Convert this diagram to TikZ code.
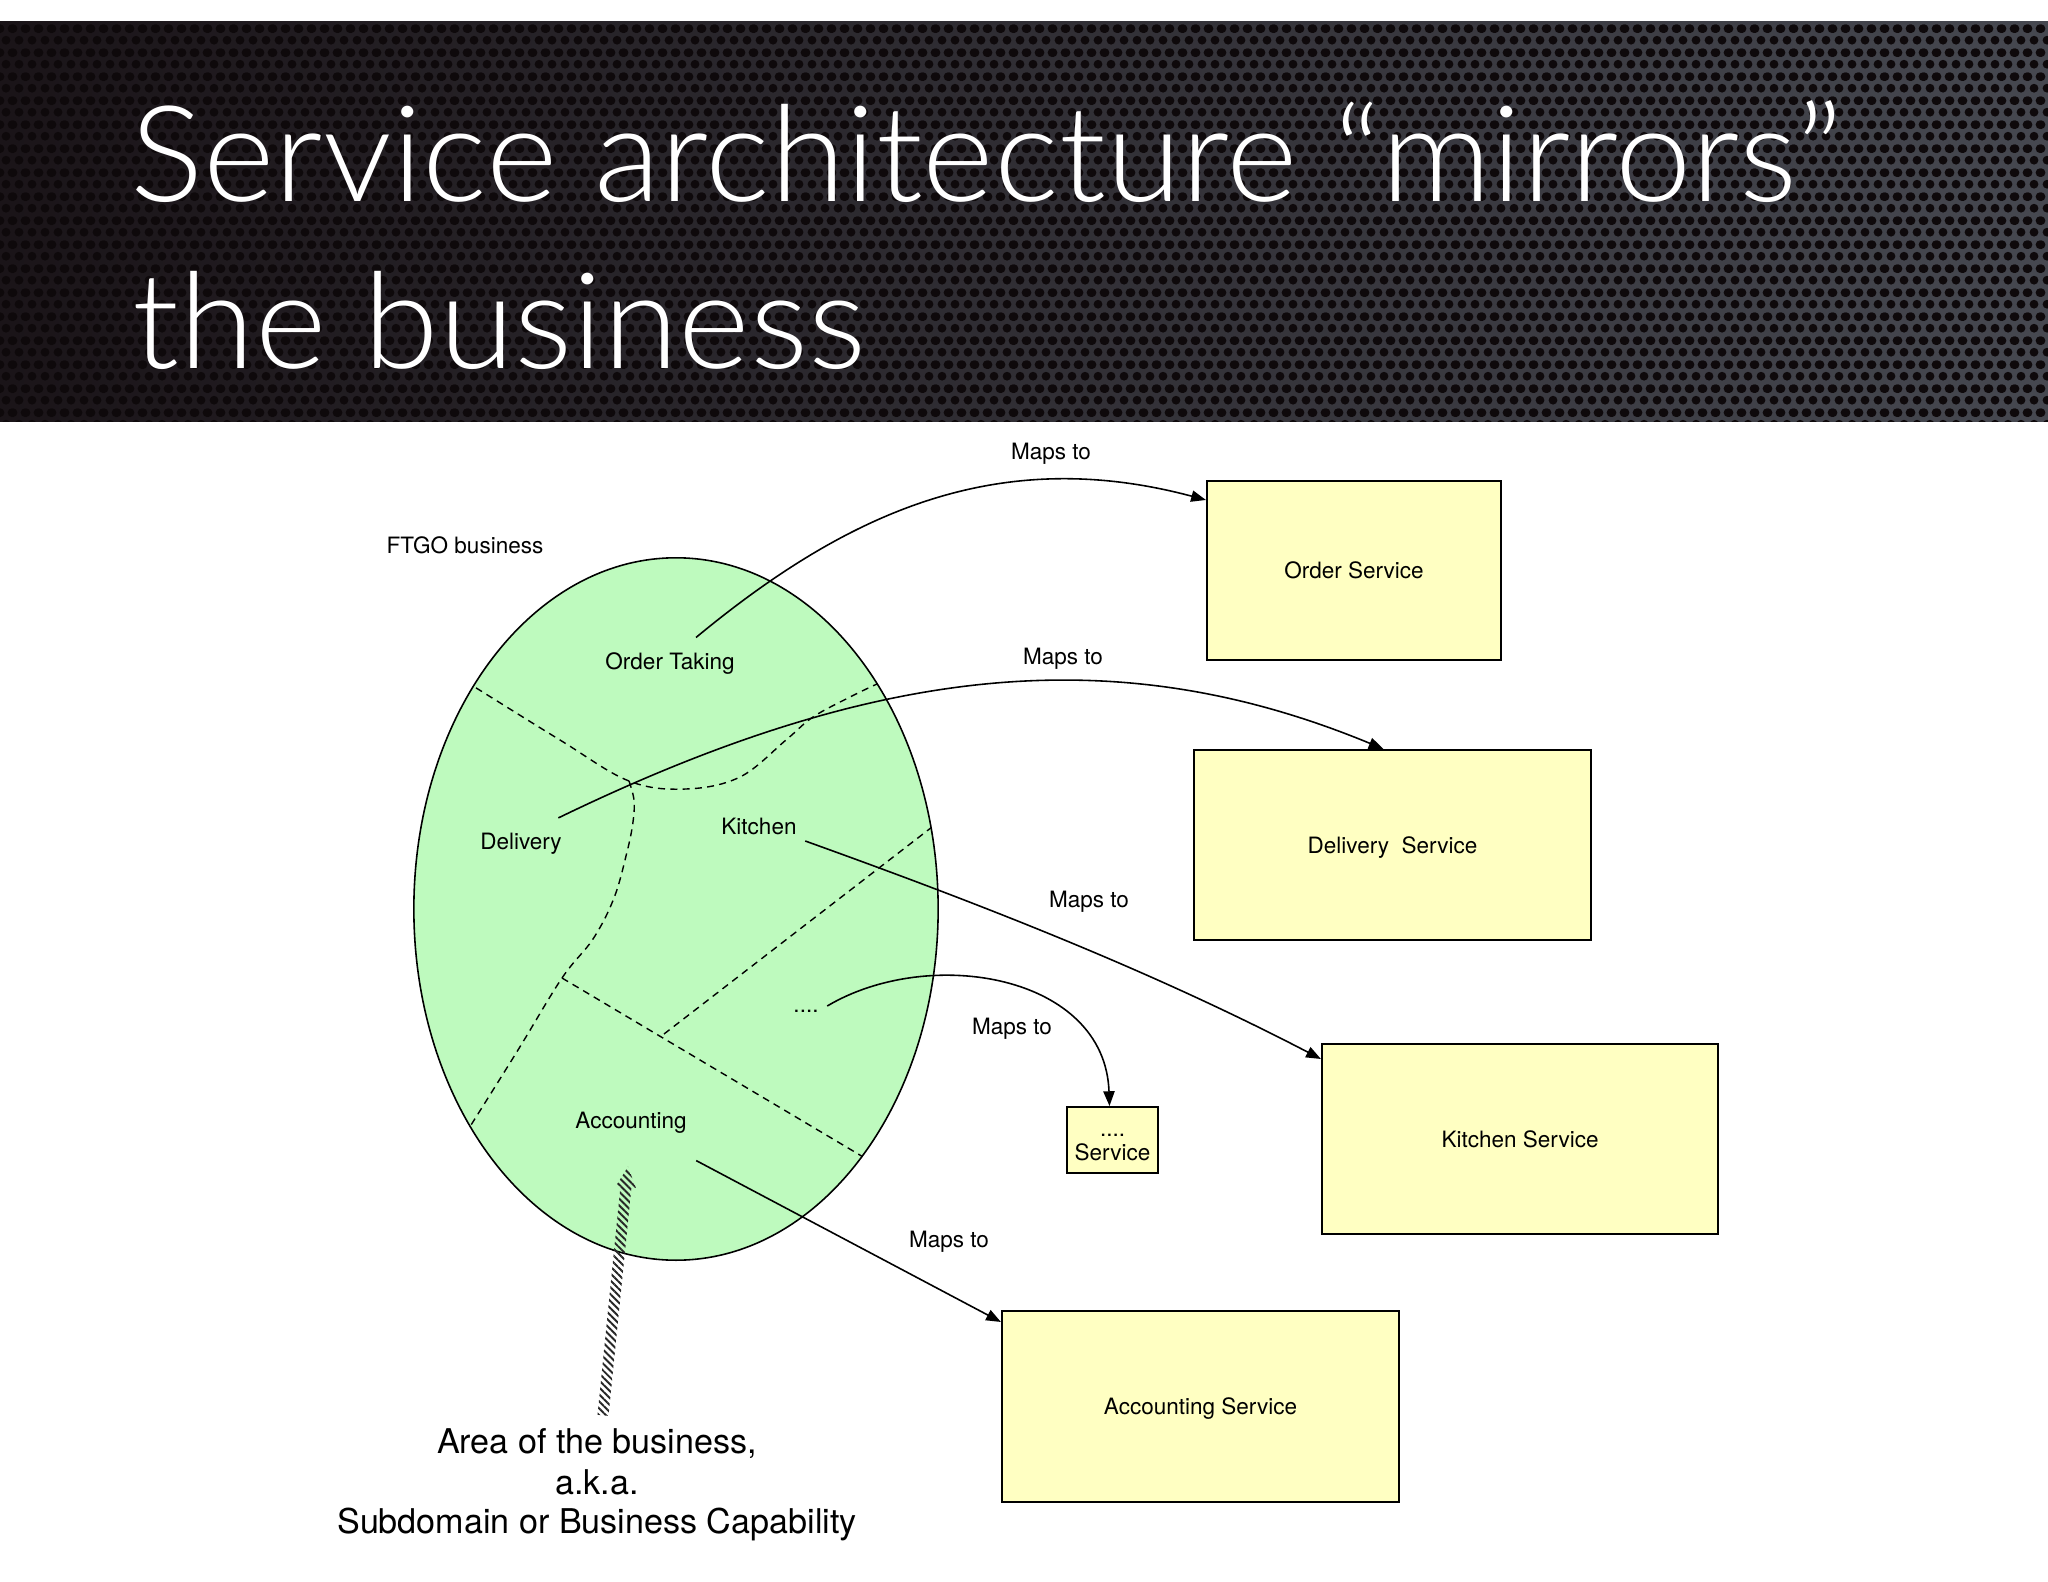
\documentclass[tikz,border=0pt]{standalone}
\usepackage{fontspec}
\setmainfont{TeX Gyre Heros}
\IfFontExistsTF{Lato Light}{\newfontfamily\titlefont{Lato Light}}{\newfontfamily\titlefont{TeX Gyre Heros}}
\usetikzlibrary{arrows.meta,calc,patterns,patterns.meta,shapes.geometric}
\definecolor{bizgreen}{RGB}{190,250,190}
\definecolor{svcyellow}{RGB}{255,255,194}
\definecolor{hdrL}{RGB}{26,20,24}
\definecolor{hdrR}{RGB}{70,72,80}
\definecolor{hdrHole}{RGB}{14,9,11}
\pgfdeclarepatternformonly{mesh}{\pgfqpoint{0pt}{0pt}}{\pgfqpoint{3.56pt}{6.83pt}}{\pgfqpoint{3.56pt}{6.83pt}}{%
  \pgfpathcircle{\pgfqpoint{1.78pt}{1.71pt}}{1.3pt}%
  \pgfpathcircle{\pgfqpoint{0pt}{5.12pt}}{1.3pt}%
  \pgfpathcircle{\pgfqpoint{3.56pt}{5.12pt}}{1.3pt}%
  \pgfusepath{fill}%
}
\begin{document}
\begin{tikzpicture}[x=0.01cm,y=-0.01cm,
  lbl/.style={font=\fontsize{6.4}{7.4}\selectfont, inner sep=0pt},
  svc/.style={draw=black, line width=0.55pt, fill=svcyellow, font=\fontsize{6.4}{7.4}\selectfont, inner sep=0pt, text height=4.6pt, text depth=0pt},
  svcbox/.style={draw=black, line width=0.55pt, fill=svcyellow, inner sep=0pt},
  mapsto/.style={line width=0.45pt, -{Triangle[length=4.2pt,width=3.2pt]}},
  bound/.style={dash pattern=on 2pt off 1.5pt, line width=0.4pt},
  caption/.style={font=\fontsize{9.7}{11.5}\selectfont, inner sep=0pt, anchor=base},
  titletext/.style={font=\titlefont\fontsize{38}{45}\selectfont, text=white, inner sep=0pt, anchor=base west}
]
\useasboundingbox (0,0) rectangle (2048,1582);
\fill[white] (0,0) rectangle (2048,1582);

% header band
\shade[left color=hdrL, right color=hdrR] (0,22) rectangle (2048,421);
\fill[pattern=mesh, pattern color=hdrHole] (0,22) rectangle (2048,421);
\node[titletext] (t1) at (130,202) {\scalebox{1.025}[1]{Service architecture “mirrors”}};
\node[titletext] (t2) at (132,368) {\scalebox{1.025}[1]{the business}};

% business ellipse
\node[ellipse, draw, line width=0.45pt, fill=bizgreen, minimum width=5.24cm, minimum height=7.02cm, inner sep=0pt] (biz) at (676,909) {};
\begin{scope}
  \clip (676,909) ellipse [x radius=262, y radius=351];
  \draw[bound] plot[smooth, tension=0.6] coordinates {(455,675) (473,686) (560,740) (629,781) (686,789) (740,777) (786,740) (813,717) (850,697) (877,684) (895,676)};
  \draw[bound] plot[smooth, tension=0.6] coordinates {(629,781) (634,800) (633,822) (627,852) (614,898) (593,939) (562,978) (518,1050) (471,1125) (460,1142)};
  \draw[bound] (562,978) -- (875,1164);
  \draw[bound] (664,1034) -- (945,817);
\end{scope}

% labels
\node[lbl, anchor=base] (ftgo) at (465,553) {FTGO business};
\node[lbl, anchor=base] (ot) at (670,669) {Order Taking};
\node[lbl, anchor=base] (del) at (521,849) {Delivery};
\node[lbl, anchor=base] (kit) at (759,834) {Kitchen};
\node[lbl, anchor=base] (acc) at (631,1128) {Accounting};
\node[lbl, anchor=base] (dots) at (806,1012) {....};

% service boxes
\node[svc, minimum width=2.94cm, minimum height=1.79cm] (os) at (1354,570.5) {Order Service};
\node[svc, minimum width=3.97cm, minimum height=1.90cm] (ds) at (1392.5,845) {Delivery\ \ Service};
\node[svc, minimum width=3.96cm, minimum height=1.90cm] (ks) at (1520,1139) {Kitchen Service};
\node[svc, minimum width=3.97cm, minimum height=1.91cm] (as) at (1200.5,1406.5) {Accounting Service};
\node[svcbox, minimum width=0.91cm, minimum height=0.66cm] (xs) at (1112.5,1140) {};
\node[lbl, anchor=base] (xs1) at (1112.5,1136) {....};
\node[lbl, anchor=base] (xs2) at (1112.5,1160) {Service};

% connectors
\draw[mapsto] ([shift={(26,-14)}]ot.north) .. controls (850,510) and (1000,445) .. ([shift={(0,20)}]os.north west);
\draw[mapsto] ([shift={(-4,-14)}]del.north east) .. controls (880,662) and (1120,640) .. ([shift={(-9,0)}]ds.north);
\draw[mapsto] ([shift={(8,7)}]kit.base east) .. controls (975,902) and (1148,969) .. ([shift={(0,16)}]ks.north west);
\draw[mapsto] ([shift={(8,-6)}]dots.base east) .. controls (930,945) and (1105,975) .. ([shift={(-3,0)}]xs.north);
\draw[mapsto] ([shift={(9,27)}]acc.south east) -- ([shift={(0,12)}]as.north west);

% maps-to labels
\node[lbl, anchor=base] (m1) at (1051,459) {Maps to};
\node[lbl, anchor=base] (m2) at (1063,664) {Maps to};
\node[lbl, anchor=base] (m3) at (1089,907) {Maps to};
\node[lbl, anchor=base] (m4) at (1012,1034) {Maps to};
\node[lbl, anchor=base] (m5) at (949,1247) {Maps to};

% caption
\node[caption] (cap1) at (597,1453) {Area of the business,};
\node[caption] (cap2) at (597,1494) {a.k.a.};
\node[caption] (cap3) at (597,1533) {Subdomain or Business Capability};

% hatched pointer arrow
\coordinate (hb) at ([shift={(6,-12)}]cap1.north);
\coordinate (ht) at ([shift={(-3,33)}]acc.south);
\coordinate (hn) at ($(hb)!0.918!(ht)$);
\fill[pattern={Lines[angle=-45,distance=1.4pt,line width=0.55pt]}, pattern color=black!85]
  ($(hb)!0.055cm!90:(ht)$) -- ($(hn)!0.055cm!90:(ht)$) -- ($(hn)!0.1cm!90:(ht)$) -- (ht)
  -- ($(hn)!0.1cm!-90:(ht)$) -- ($(hn)!0.055cm!-90:(ht)$) -- ($(hb)!0.055cm!-90:(ht)$) -- cycle;
\end{tikzpicture}
\end{document}
